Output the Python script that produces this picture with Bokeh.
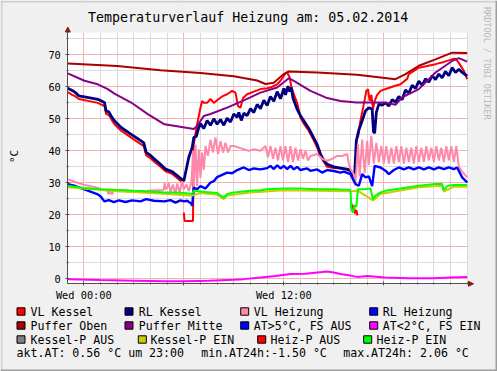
import numpy as np
from bokeh.plotting import figure
from bokeh.models import FixedTicker, Label, BoxAnnotation, Arrow, NormalHead, Range1d
from bokeh.embed import file_html
from bokeh.resources import INLINE

nan = float("nan")

TITLE = "Temperaturverlauf Heizung am: 05.02.2014"
Y_UNIT = "°C"
WATERMARK = "RRDTOOL / TOBI OETIKER"
X_TICKS = [0, 6, 12, 18]
X_TICK_LABELS = ["Wed 00:00", "", "Wed 12:00", ""]
X_MINOR = list(range(0, 24))
Y_TICKS = [0, 10, 20, 30, 40, 50, 60, 70]
Y_MINOR = [5, 15, 25, 35, 45, 55, 65, 75]

# hours since Wed 00:00
VL_KESSEL_T = [-0.96, -0.7, -0.5, -0.3, 0.84, 1.24, 1.34, 1.5, 1.64, 1.84,
               2.24, 2.8, 3.44, 3.6, 3.74, 4.0, 4.24, 4.6, 4.9, 5.3,
               5.95, 5.98, 6.0, 6.05, 6.55, 6.6, 6.75, 7.0, 7.1, 7.2,
               7.4, 7.6, 7.8, 8.1, 8.3, 8.6, 8.9, 9.1, 9.25, 9.4,
               9.55, 9.8, 10.2, 10.6, 11.0, 11.2, 11.6, 11.8, 12.0, 12.1,
               12.2, 12.35, 12.45, 12.6, 12.8, 13.0, 13.2, 13.5, 13.8, 14.0,
               14.2, 14.4, 14.6, 15.0, 15.5, 15.95, 16.0, 16.05, 16.12, 16.2,
               16.28, 16.35, 16.42, 16.44, 16.45, 16.6, 16.8, 16.95, 17.05, 17.15,
               17.25, 17.35, 17.45, 17.6, 17.8, 18.2, 18.6, 19.0, 19.4, 19.5,
               19.8, 20.1, 20.6, 21.1, 21.6, 22.1, 22.3, 22.5, 22.8, 23.0]
VL_KESSEL_V = [58.4, 57.5, 57.0, 56.2, 55.0, 54.0, 51.5, 51.2, 50.0, 48.3,
               46.3, 44.3, 42.0, 41.5, 38.6, 37.7, 36.5, 35.0, 33.6, 32.8,
               30.0, nan, 20.7, 18.1, 18.1, 42.1, 47.0, 53.5, 55.6, 55.0,
               55.0, 56.2, 55.0, 56.2, 57.0, 57.7, 58.75, 58.2, 54.0, 53.5,
               56.5, 57.7, 58.5, 59.3, 59.6, 59.8, 60.8, 61.9, 63.4, 64.2,
               64.5, 63.0, 60.0, 57.7, 55.0, 50.4, 48.5, 46.2, 43.2, 41.0,
               38.3, 36.5, 35.0, 34.6, 34.5, 34.3, nan, 23.8, 21.2, 23.0,
               20.4, 21.5, 19.8, nan, 44.2, 49.5, 54.6, 58.75, 59.3, 55.6,
               57.5, 53.0, 55.6, 57.5, 58.75, 59.5, 60.2, 60.8, 62.5, 64.0,
               65.0, 66.0, 66.5, 67.1, 67.8, 68.6, 68.8, 67.5, 65.0, 62.4]

RL_KESSEL_T = [-0.96, -0.7, -0.5, -0.3, 0.3, 0.84, 1.24, 1.34, 1.5, 1.64,
               1.84, 2.24, 2.8, 3.44, 3.6, 3.74, 4.0, 4.24, 4.6, 4.9,
               5.3, 6.0, 6.3, 6.5, 6.6, 6.75, 6.9,
               7.0, 7.2, 7.4, 7.6, 7.8, 8.0, 8.2, 8.4, 8.6, 8.8,
               9.0, 9.2, 9.3, 9.45, 9.6, 9.8, 10.0, 10.2, 10.4, 10.6,
               10.8, 11.0, 11.2, 11.4, 11.6, 11.8, 12.0, 12.1, 12.25, 12.35,
               12.45, 12.55, 12.8, 13.0, 13.2, 13.5, 13.8, 14.0, 14.2, 14.4,
               14.6, 15.0, 15.4, 15.8, 16.0, 16.15, 16.25, 16.35, 16.5, 16.7,
               16.9, 17.1, 17.3, 17.38, 17.45, 17.55, 17.7, 17.9, 18.1, 18.3,
               18.5, 18.7, 18.9, 19.1, 19.3, 19.5, 19.7, 19.9, 20.1, 20.3,
               20.5, 20.7, 20.9, 21.1, 21.3, 21.5, 21.7, 21.9, 22.1, 22.3,
               22.5, 22.7, 23.0]
RL_KESSEL_V = [59.6, 58.9, 58.2, 57.2, 56.6, 56.1, 55.1, 52.5, 52.2, 50.9,
               49.4, 47.3, 45.3, 43.1, 42.5, 39.5, 38.6, 37.4, 35.8, 34.3,
               33.5, 30.6, 38.0, 41.0, 44.2, 44.5, 47.3,
               48.5, 47.0, 49.5, 48.0, 50.0, 48.3, 49.8, 48.0, 50.2, 49.0,
               51.5, 50.5, 52.0, 49.5, 51.8, 51.0, 53.2, 52.0, 54.5, 53.2,
               55.8, 54.2, 57.0, 55.5, 58.5, 56.3, 59.5, 57.5, 60.2, 58.5,
               59.8, 56.5, 53.0, 51.0, 49.4, 47.0, 44.0, 42.0, 39.0, 37.0,
               35.8, 35.0, 34.6, 34.2, 33.8, 31.7, 32.5, 43.1, 46.5, 49.4,
               52.5, 53.5, 53.0, 46.0, 45.5, 52.0, 54.6, 54.3, 55.0, 54.0,
               56.0, 55.2, 57.0, 56.0, 59.0, 58.0, 60.5, 59.5, 61.8, 60.5,
               62.5, 61.5, 63.5, 62.3, 64.0, 62.8, 64.8, 63.5, 66.0, 64.5,
               65.5, 64.5, 63.4]

VL_HEIZUNG_T = [-0.96, -0.6, 0.0, 0.8, 1.4, 1.5, 1.55, 1.7, 1.8, 2.8,
                3.5, 4.0, 4.8, 4.85, 4.9, 5.0, 5.1, 5.2, 5.35, 5.5,
                5.6, 5.75, 5.9, 6.0, 6.15, 6.3, 6.45, 6.5, 6.55, 6.6,
                6.7, 6.8, 6.9, 7.0, 7.1, 7.2, 7.3, 7.45, 7.6, 7.75,
                7.9, 8.05, 8.2, 8.35, 8.5, 8.65, 8.8, 9.0, 9.3, 9.6,
                9.9, 10.2, 10.6, 10.9, 11.05, 11.2, 11.35, 11.5, 11.65, 11.8,
                11.95, 12.1, 12.25, 12.4, 12.55, 12.7, 12.85, 13.0, 13.15, 13.3,
                13.45, 13.6, 14.0, 14.3, 14.6, 14.9, 15.2, 15.5, 15.8, 15.9,
                16.0, 16.2, 16.3, 16.45, 16.55, 16.7, 16.85, 17.0, 17.1, 17.25,
                17.4, 17.55, 17.7, 17.85, 18.0, 18.15, 18.3, 18.45, 18.6, 18.75,
                18.9, 19.05, 19.2, 19.35, 19.5, 19.65, 19.8, 19.95, 20.1, 20.25,
                20.4, 20.55, 20.7, 20.85, 21.0, 21.15, 21.3, 21.45, 21.6, 21.75,
                21.9, 22.05, 22.2, 22.35, 22.5, 22.7, 23.0]
VL_HEIZUNG_V = [31.1, 30.4, 29.4, 28.5, 27.5, 26.4, 27.5, 26.4, 27.8, 27.5,
                27.3, 27.6, 27.8, 30.1, 28.0, 28.5, 30.0, 27.0, 29.5, 26.5,
                29.8, 27.0, 30.5, 28.0, 29.5, 27.5, 30.0, 33.8, 40.0, 27.5,
                42.0, 29.0, 40.5, 31.5, 39.5, 34.0, 41.5, 38.5, 43.5, 39.5,
                44.2, 39.0, 43.0, 39.5, 42.5, 39.5, 41.5, 41.5, 41.0, 40.5,
                40.0, 40.5, 40.0, 41.5, 38.0, 41.5, 37.5, 41.0, 37.0, 41.5,
                37.0, 41.5, 36.5, 41.5, 36.5, 41.0, 37.0, 40.5, 37.5, 40.0,
                37.0, 38.4, 39.0, 37.5, 36.9, 37.5, 38.4, 38.4, 39.0, 36.0,
                34.3, 32.7, 30.0, 42.1, 32.0, 43.5, 33.0, 43.1, 35.5, 44.7,
                36.0, 42.5, 36.5, 41.5, 36.0, 41.5, 36.0, 41.0, 36.0, 41.5,
                36.5, 41.5, 36.0, 41.0, 36.5, 41.0, 36.0, 41.5, 36.5, 41.0,
                36.5, 41.5, 37.0, 41.0, 36.5, 41.5, 37.0, 41.0, 36.5, 41.5,
                37.0, 41.5, 36.5, 41.5, 35.0, 33.5, 31.7]

RL_HEIZUNG_T = [-0.96, -0.5, 0.0, 0.8, 1.0, 1.24, 1.5, 1.8, 2.1, 2.5,
                2.9, 3.4, 3.74, 4.2, 4.84, 5.2, 5.5, 5.8, 6.0, 6.2,
                6.45, 6.5, 6.6, 6.8, 7.0, 7.3, 7.6, 7.8, 8.0, 8.3,
                8.6, 8.9, 9.2, 9.6, 9.9, 10.2, 10.6, 11.0, 11.2, 11.4,
                11.6, 11.8, 12.0, 12.2, 12.4, 12.6, 12.8, 13.0, 13.4, 13.6,
                14.0, 14.3, 14.6, 15.0, 15.4, 15.6, 16.0, 16.3, 16.5, 16.7,
                16.9, 17.1, 17.3, 17.45, 17.8, 18.1, 18.3, 18.6, 18.9, 19.2,
                19.5, 19.8, 20.1, 20.4, 20.7, 21.0, 21.3, 21.6, 21.9, 22.2,
                22.4, 22.7, 23.0]
RL_HEIZUNG_V = [29.6, 29.0, 28.0, 26.5, 25.8, 24.2, 24.6, 24.0, 24.5, 24.0,
                24.5, 24.2, 24.9, 24.4, 24.2, 24.6, 23.8, 24.5, 24.2, 24.4,
                23.5, 22.8, 28.5, 28.0, 29.0, 28.2, 30.1, 30.5, 31.8, 32.5,
                33.2, 33.0, 34.0, 34.8, 34.0, 34.5, 34.2, 34.6, 35.3, 34.3,
                35.5, 34.5, 35.3, 34.3, 35.3, 34.2, 35.0, 34.0, 34.5, 33.75,
                34.2, 33.2, 34.0, 33.7, 33.2, 33.5, 32.7, 29.6, 29.1, 32.7,
                31.7, 32.0, 29.0, 35.3, 34.8, 33.8, 32.7, 34.0, 34.8, 34.2,
                34.8, 34.2, 34.8, 34.2, 34.8, 34.2, 34.8, 34.3, 34.8, 34.3,
                34.8, 31.7, 30.1]

PUFFER_OBEN_T = [-0.96, 2.0, 4.6, 7.0, 9.0, 10.4, 10.9, 11.4, 12.0, 12.3,
                 14.0, 16.4, 18.7, 19.3, 20.1, 21.1, 22.1, 23.0]
PUFFER_OBEN_V = [67.3, 66.5, 65.2, 64.3, 63.3, 62.0, 60.9, 61.3, 64.0, 64.8,
                 64.5, 63.8, 62.4, 64.0, 66.6, 68.6, 70.7, 70.6]

PUFFER_MITTE_T = [-0.96, 0.04, 0.84, 1.44, 1.84, 2.84, 3.84, 4.84, 5.5, 6.6,
                  6.8, 7.2, 7.6, 8.6, 9.6, 10.6, 11.6, 12.3, 12.6, 13.6,
                  14.6, 15.4, 16.36, 18.1, 18.7, 19.1, 20.1, 21.1, 22.1, 22.5,
                  23.0]
PUFFER_MITTE_V = [64.2, 61.9, 60.8, 59.3, 57.9, 55.1, 51.5, 48.3, 47.8, 46.8,
                  47.8, 50.9, 51.5, 53.5, 55.8, 58.2, 59.8, 62.7, 61.9, 58.75,
                  56.5, 55.6, 55.1, 55.1, 54.4, 56.7, 59.3, 64.5, 68.1, 69.0,
                  67.9]

AT_T = [-0.96, 1.0, 3.0, 4.84, 6.0, 7.5, 9.0, 9.6, 10.6, 11.5,
        12.4, 13.3, 14.3, 14.6, 15.0, 15.4, 16.0, 16.4, 17.0, 18.1,
        19.5, 21.0, 22.0, 23.0]
AT_V = [-0.1, -0.4, -0.6, -0.8, -0.8, -0.6, -0.3, -0.1, 0.4, 0.9,
        1.5, 1.6, 2.1, 2.3, 2.0, 1.5, 1.0, 0.6, 0.9, 0.4,
        0.2, 0.2, 0.4, 0.6]

KESSEL_P_EIN_T = [-0.96, 2.0, 4.84, 6.5, 7.0, 8.0, 8.4, 8.6, 10.0, 12.0,
                  15.9, 16.45, 17.35, 17.8, 20.1, 21.5, 21.6, 22.2, 23.0]
KESSEL_P_EIN_V = [28.6, 27.4, 26.6, 26.0, 26.8, 26.3, 24.9, 26.0, 27.0, 27.7,
                  27.4, 27.5, 24.5, 26.5, 28.6, 29.1, 27.3, 28.8, 28.8]

HEIZ_P_EIN_T = [-0.96, 0.0, 1.0, 2.0, 3.0, 4.0, 4.84, 5.5, 6.0, 6.5,
                6.6, 7.0, 7.6, 8.0, 8.2, 8.4, 8.6, 9.0, 10.0, 10.6,
                11.0, 12.0, 13.0, 14.0, 15.0, 15.9, 16.0, 16.05, 16.15, 16.25,
                16.35, 16.45, 16.8, 17.2, 17.35, 17.5, 17.8, 18.1, 19.0, 20.1,
                21.1, 21.5, 21.6, 21.8, 22.2, 23.0]
HEIZ_P_EIN_V = [29.1, 28.4, 28.0, 27.8, 27.5, 27.3, 27.0, 27.0, 26.8, 26.5,
                27.5, 27.3, 27.0, 26.8, 26.0, 25.4, 26.5, 27.0, 27.5, 27.7,
                28.0, 28.2, 28.2, 28.0, 28.0, 27.8, 27.6, 22.0, 20.7, 23.0,
                22.5, 28.0, 28.0, 28.2, 24.9, 26.0, 27.0, 27.5, 28.2, 29.1,
                29.6, 29.6, 27.7, 29.0, 29.3, 29.3]

LEGEND_LABELS = ["VL Kessel", "RL Kessel", "VL Heizung", "RL Heizung",
                 "Puffer Oben", "Puffer Mitte", "AT>5°C, FS AUS", "AT<2°C, FS EIN",
                 "Kessel-P AUS", "Kessel-P EIN", "Heiz-P AUS", "Heiz-P EIN"]
LEGEND_COLORS = ["#FF0000", "#000080", "#FF88AA", "#0000FF",
                 "#AA0000", "#880088", "#0000FF", "#FF00FF",
                 "#808080", "#CCCC00", "#FF0000", "#00FF00"]
INFO_TEXTS = ["akt.AT: 0.56 °C um 23:00", "min.AT24h:-1.50 °C", "max.AT24h: 2.06 °C"]

# ---------------- layout (canvas pixels) ----------------
W, H = 497, 371
FL, FR, FT, FB = 67.3, 467.5, 32.3, 283.3      # plot area inside the canvas
X0, X1 = -0.96, 23.05
Y0, Y1 = -1.56, 76.9
FONT = "DejaVu Sans Mono"
BG = "#F0F0F0"

# the frame covers the whole canvas; the data area is mapped to the plot rectangle
XA = X0 - FL / (FR - FL) * (X1 - X0)
XB = X1 + (W - FR) / (FR - FL) * (X1 - X0)
YB = Y1 + FT / (FB - FT) * (Y1 - Y0)
YA = Y0 - (H - FB) / (FB - FT) * (Y1 - Y0)


def dx(px):
    return X0 + (px - FL) / (FR - FL) * (X1 - X0)


def dy(py):
    return Y1 - (py - FT) / (FB - FT) * (Y1 - Y0)


p = figure(width=W, height=H, x_range=Range1d(XA, XB), y_range=Range1d(YA, YB),
           output_backend="svg", toolbar_location=None,
           min_border_left=0, min_border_right=0, min_border_top=0, min_border_bottom=0,
           background_fill_color="white", border_fill_color=BG,
           outline_line_color=None)
p.title.visible = False

AXIS_COLOR = "#505050"
p.xaxis.ticker = FixedTicker(ticks=X_TICKS, minor_ticks=X_MINOR)
p.xaxis.major_label_overrides = {t: l for t, l in zip(X_TICKS, X_TICK_LABELS)}
p.yaxis.ticker = FixedTicker(ticks=Y_TICKS, minor_ticks=Y_MINOR)
p.xaxis.fixed_location = Y0
p.yaxis.fixed_location = X0
p.xaxis.bounds = (X0, X1)
p.yaxis.bounds = (Y0, Y1)
for ax in (p.xaxis, p.yaxis):
    ax.axis_line_color = AXIS_COLOR
    ax.major_tick_line_color = AXIS_COLOR
    ax.minor_tick_line_color = AXIS_COLOR
    ax.major_tick_in = 2
    ax.major_tick_out = 2
    ax.minor_tick_in = 1
    ax.minor_tick_out = 1
    ax.major_label_text_font = FONT
    ax.major_label_text_font_size = "10.3px"
    ax.major_label_text_color = "black"
p.xaxis.major_label_standoff = 3
p.yaxis.major_label_standoff = 5

for g in (p.xgrid, p.ygrid):
    g.grid_line_color = "#F3B3B3"
    g.grid_line_alpha = 1
    g.minor_grid_line_color = "#DADADA"
    g.minor_grid_line_alpha = 1

# grey canvas around the plot area (covers grid lines outside it)
for (l, r, b, t) in [(XA, X0, YA, YB), (X1, XB, YA, YB), (X0, X1, Y1, YB), (X0, X1, YA, Y0)]:
    p.add_layout(BoxAnnotation(left=l, right=r, bottom=b, top=t, fill_color=BG, fill_alpha=1,
                               line_color=None, level="underlay"))

series = [
    (VL_KESSEL_T, VL_KESSEL_V, LEGEND_COLORS[0], 2),
    (RL_KESSEL_T, RL_KESSEL_V, LEGEND_COLORS[1], 2.8),
    (VL_HEIZUNG_T, VL_HEIZUNG_V, LEGEND_COLORS[2], 2),
    (RL_HEIZUNG_T, RL_HEIZUNG_V, LEGEND_COLORS[3], 2.4),
    (PUFFER_OBEN_T, PUFFER_OBEN_V, LEGEND_COLORS[4], 2),
    (PUFFER_MITTE_T, PUFFER_MITTE_V, LEGEND_COLORS[5], 2),
    (AT_T, AT_V, LEGEND_COLORS[7], 2),
    (KESSEL_P_EIN_T, KESSEL_P_EIN_V, LEGEND_COLORS[9], 2),
    (HEIZ_P_EIN_T, HEIZ_P_EIN_V, LEGEND_COLORS[11], 2),
]
for t, v, c, w in series:
    p.line(np.array(t, dtype=float), np.array(v, dtype=float), line_color=c, line_width=w)

# axis arrows
head_c = "#8B1A1A"
p.add_layout(Arrow(end=NormalHead(size=5, fill_color=head_c, line_color=head_c),
                   x_start=X0, y_start=Y1, x_end=X0, y_end=dy(26.5),
                   line_color=AXIS_COLOR, line_width=1))
p.add_layout(Arrow(end=NormalHead(size=5, fill_color=head_c, line_color=head_c),
                   x_start=X1, y_start=Y0, x_end=dx(473), y_end=Y0,
                   line_color=AXIS_COLOR, line_width=1))


def label(text, px, py, size, align="left", baseline="middle", angle=0.0, color="black"):
    p.add_layout(Label(x=dx(px), y=dy(py), text=text, text_font=FONT,
                       text_font_size=size, text_align=align, text_baseline=baseline,
                       angle=angle, text_color=color))


label(TITLE, 247.7, 16.5, "13.3px", align="center")
label(Y_UNIT, 13.5, 156, "11px", align="center", angle=np.pi / 2)
label(WATERMARK, 486.5, 6.5, "8.5px", align="left", angle=-np.pi / 2, color="#B8B8B8")

ROW_Y = [311, 325, 339]
BOX_X = [[16, 124, 239.7, 368.7], [16, 124, 239.7, 368.7], [16, 137.3, 256.7, 362.7]]
TXT_X = [[30, 138.3, 253.3, 382.3], [30, 138.3, 253.3, 382.3], [30, 150, 270, 376]]
for i, (lab, col) in enumerate(zip(LEGEND_LABELS, LEGEND_COLORS)):
    r, cidx = divmod(i, 4)
    bx, tx, ry = BOX_X[r][cidx], TXT_X[r][cidx], ROW_Y[r]
    p.add_layout(BoxAnnotation(left=dx(bx + 0.5), right=dx(bx + 8.5), top=dy(ry - 3.7), bottom=dy(ry + 3.7),
                               fill_color=col, fill_alpha=1, line_color="black", line_alpha=1,
                               line_width=1, level="overlay"))
    label(lab, tx, ry, "11.6px")

INFO_X = [16, 200.7, 342.7]
for txt, ix in zip(INFO_TEXTS, INFO_X):
    label(txt, ix, 352.3, "11.6px")

# 3D frame around the canvas
for (l, r, t, b, c) in [(0, W, 0, 2, "#CFCFCF"), (0, 2, 0, H, "#CFCFCF"),
                        (W - 2, W, 0, H, "#9E9E9E"), (0, W, H - 2, H, "#9E9E9E")]:
    p.add_layout(BoxAnnotation(left=dx(l), right=dx(r), top=dy(t), bottom=dy(b),
                               fill_color=c, fill_alpha=1, line_color=None, level="overlay"))

open("out.html", "w").write(file_html(p, INLINE))
